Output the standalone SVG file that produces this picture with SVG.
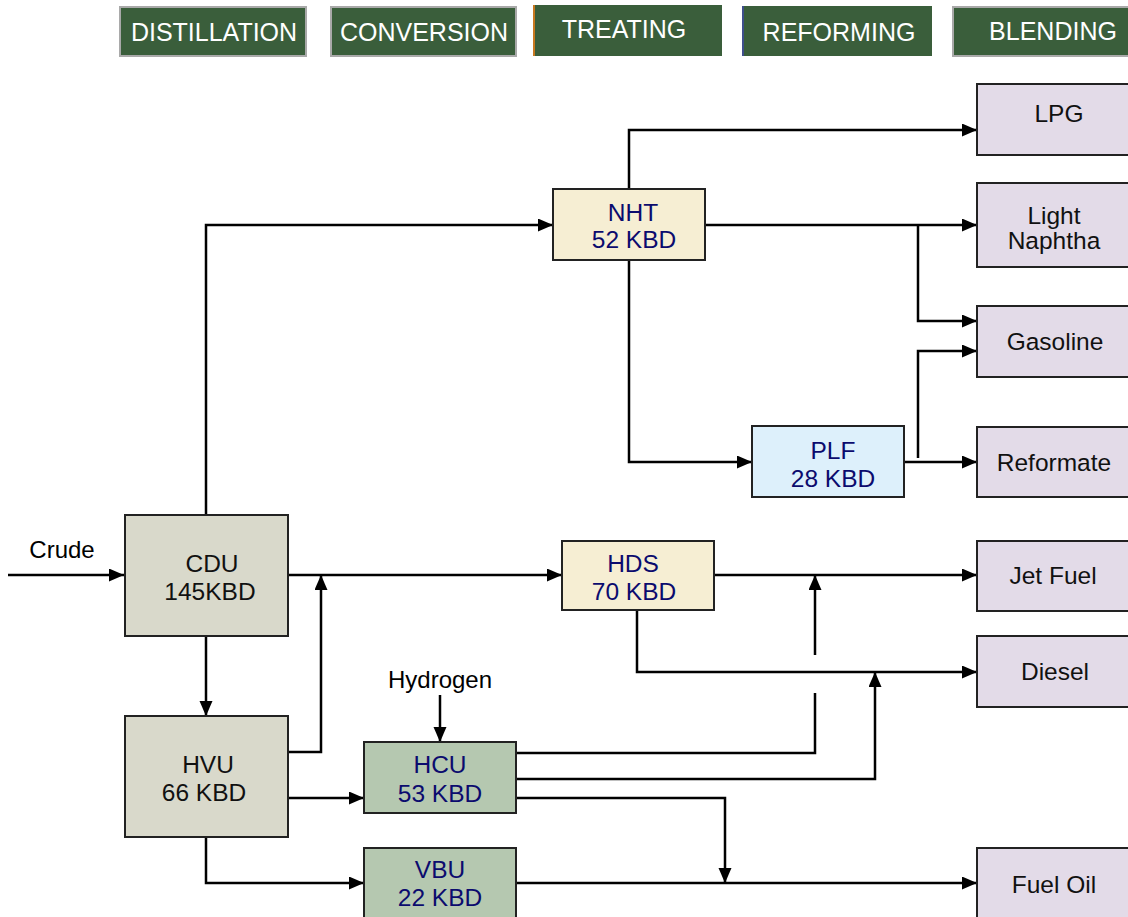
<svg xmlns="http://www.w3.org/2000/svg" width="1128" height="917" viewBox="0 0 1128 917">
<defs>
<marker id="arr" markerUnits="userSpaceOnUse" markerWidth="16" markerHeight="14" refX="15" refY="6.5" orient="auto">
<path d="M0,0 L15,6.5 L0,13 z" fill="#000"/>
</marker>
<style>
.hdr{fill:#3a5e3b;stroke:#a9a9a9;stroke-width:2}
.hdrt{font-family:"Liberation Sans",Arial,sans-serif;font-size:25px;fill:#fff;text-anchor:middle}
.box{stroke:#222;stroke-width:2}
.cdu{fill:#d9d9cb}
.nht{fill:#f6eed3}
.plf{fill:#ddf0fb}
.hcu{fill:#b5c8b0}
.prod{fill:#e3dbe8}
.t{font-family:"Liberation Sans",Arial,sans-serif;font-size:24.5px;text-anchor:middle}
.blue{fill:#0b0b6e}
.blk{fill:#111}
.c{fill:none;stroke:#000;stroke-width:2.5}
.lbl{font-family:"Liberation Sans",Arial,sans-serif;font-size:24px;fill:#000;text-anchor:middle}
</style>
</defs>
<rect width="1128" height="917" fill="#fff"/>

<g id="headers">
<g id="h-distillation"><rect class="hdr" x="120" y="7" width="186" height="49"/><text class="hdrt" x="214" y="41">DISTILLATION</text></g>
<g id="h-conversion"><rect class="hdr" x="331" y="7" width="185" height="49"/><text class="hdrt" x="424" y="41">CONVERSION</text></g>
<g id="h-treating"><rect x="533" y="5" width="189" height="51" fill="#3a5e3b"/><line x1="534" y1="5" x2="534" y2="56" stroke="#c8781f" stroke-width="2"/><text class="hdrt" x="624" y="38">TREATING</text></g>
<g id="h-reforming"><rect x="742" y="6" width="190" height="50" fill="#3a5e3b"/><line x1="743" y1="6" x2="743" y2="56" stroke="#3f4f8c" stroke-width="2"/><text class="hdrt" x="839" y="41">REFORMING</text></g>
<g id="h-blending"><rect class="hdr" x="953" y="7" width="176" height="49"/><text class="hdrt" x="1053" y="40">BLENDING</text></g>
</g>

<g id="connectors">
<path class="c" d="M8,575 H124" marker-end="url(#arr)"/>
<path class="c" d="M206,515 V225 H553" marker-end="url(#arr)"/>
<path class="c" d="M629,189 V130 H977" marker-end="url(#arr)"/>
<path class="c" d="M705,225 H977" marker-end="url(#arr)"/>
<path class="c" d="M918,225 V321 H977" marker-end="url(#arr)"/>
<path class="c" d="M629,261 V462 H752" marker-end="url(#arr)"/>
<path class="c" d="M904,462 H977" marker-end="url(#arr)"/>
<path class="c" d="M918,458 V351 H977" marker-end="url(#arr)"/>
<path class="c" d="M288,575 H562" marker-end="url(#arr)"/>
<path class="c" d="M288,752 H321 V575" marker-end="url(#arr)"/>
<path class="c" d="M288,798 H364" marker-end="url(#arr)"/>
<path class="c" d="M206,636 V716" marker-end="url(#arr)"/>
<path class="c" d="M206,837 V883 H364" marker-end="url(#arr)"/>
<path class="c" d="M714,575 H977" marker-end="url(#arr)"/>
<path class="c" d="M637,610 V672 H977" marker-end="url(#arr)"/>
<path class="c" d="M516,753 H815 V693"/>
<path class="c" d="M815,655 V575" marker-end="url(#arr)"/>
<path class="c" d="M516,779 H875 V672" marker-end="url(#arr)"/>
<path class="c" d="M516,798 H725 V883" marker-end="url(#arr)"/>
<path class="c" d="M516,883 H977" marker-end="url(#arr)"/>
<path class="c" d="M440,695 V742" marker-end="url(#arr)"/>
<text class="lbl" x="62" y="558">Crude</text>
<text class="lbl" x="440" y="688">Hydrogen</text>
</g>

<g id="cdu"><rect class="box cdu" x="125" y="515" width="163" height="121"/><text class="t blk" x="212" y="572">CDU</text><text class="t blk" x="210" y="600">145KBD</text></g>
<g id="hvu"><rect class="box cdu" x="125" y="716" width="163" height="121"/><text class="t blk" x="208" y="773">HVU</text><text class="t blk" x="204" y="801">66 KBD</text></g>
<g id="nht"><rect class="box nht" x="553" y="189" width="152" height="71"/><text class="t blue" x="633" y="221">NHT</text><text class="t blue" x="634" y="248">52 KBD</text></g>
<g id="plf"><rect class="box plf" x="752" y="426" width="152" height="71"/><text class="t blue" x="833" y="459">PLF</text><text class="t blue" x="833" y="487">28 KBD</text></g>
<g id="hds"><rect class="box nht" x="562" y="541" width="152" height="69"/><text class="t blue" x="633" y="572">HDS</text><text class="t blue" x="634" y="600">70 KBD</text></g>
<g id="hcu"><rect class="box hcu" x="364" y="742" width="152" height="71"/><text class="t blue" x="440" y="773">HCU</text><text class="t blue" x="440" y="802">53 KBD</text></g>
<g id="vbu"><rect class="box hcu" x="364" y="848" width="152" height="75"/><text class="t blue" x="440" y="878">VBU</text><text class="t blue" x="440" y="906">22 KBD</text></g>

<g id="lpg"><rect class="box prod" x="977" y="84" width="155" height="71"/><text class="t blk" x="1059" y="122">LPG</text></g>
<g id="light-naphtha"><rect class="box prod" x="977" y="183" width="155" height="84"/><text class="t blk" x="1054" y="224">Light</text><text class="t blk" x="1054" y="249">Naphtha</text></g>
<g id="gasoline"><rect class="box prod" x="977" y="306" width="155" height="71"/><text class="t blk" x="1055" y="350">Gasoline</text></g>
<g id="reformate"><rect class="box prod" x="977" y="427" width="155" height="70"/><text class="t blk" x="1054" y="471">Reformate</text></g>
<g id="jet-fuel"><rect class="box prod" x="977" y="541" width="155" height="70"/><text class="t blk" x="1053" y="584">Jet Fuel</text></g>
<g id="diesel"><rect class="box prod" x="977" y="636" width="155" height="71"/><text class="t blk" x="1055" y="680">Diesel</text></g>
<g id="fuel-oil"><rect class="box prod" x="977" y="848" width="155" height="75"/><text class="t blk" x="1054" y="893">Fuel Oil</text></g>
</svg>
